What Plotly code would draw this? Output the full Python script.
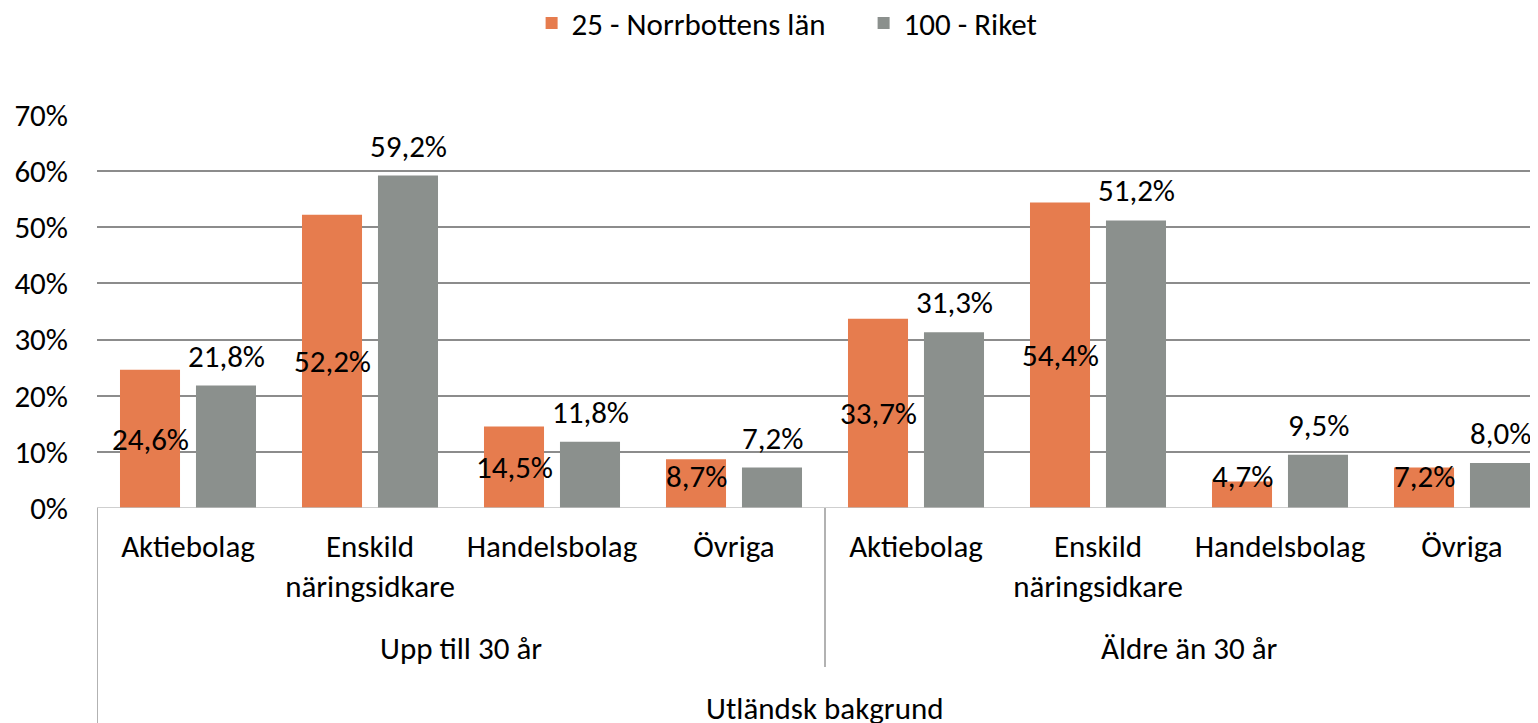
import plotly.graph_objects as go

# data
categories = ["Aktiebolag", "Enskild<br>näringsidkare", "Handelsbolag", "Övriga",
              "Aktiebolag", "Enskild<br>näringsidkare", "Handelsbolag", "Övriga"]
age_groups = ["Upp till 30 år", "Äldre än 30 år"]
top_group = "Utländsk bakgrund"
norrbotten = [0.246, 0.522, 0.145, 0.087, 0.337, 0.544, 0.047, 0.072]
riket = [0.218, 0.592, 0.118, 0.072, 0.313, 0.512, 0.095, 0.080]
series_names = ["25 - Norrbottens län", "100 - Riket"]

FONT = "Carlito, Calibri, Lato, sans-serif"
FS = 31
ORANGE = "#E67C4E"
GREY = "#8B908D"


def pct(v):
    return f"{v * 100:.1f}%".replace(".", ",")


xs = list(range(len(categories)))

fig = go.Figure()
fig.add_trace(go.Bar(x=xs, y=norrbotten, name=series_names[0],
                     marker=dict(color=ORANGE, line=dict(width=0))))
fig.add_trace(go.Bar(x=xs, y=riket, name=series_names[1],
                     marker=dict(color=GREY, line=dict(width=0))))

# orange labels: centred in the bar, kept clear of the axis for short bars
for x, v in zip(xs, norrbotten):
    fig.add_annotation(x=x, y=max(v / 2, 0.057), xref="x", yref="y", xshift=-38,
                       text=pct(v), showarrow=False, font=dict(size=FS),
                       yanchor="middle")
# grey labels: just above the bar end
for x, v in zip(xs, riket):
    fig.add_annotation(x=x, y=v, xref="x", yref="y", xshift=38, yshift=30,
                       text=pct(v), showarrow=False, font=dict(size=FS),
                       yanchor="middle")

# page body has an 8px margin, so the figure is shrunk by that much
fig.update_layout(
    width=1530, height=715,
    margin=dict(l=89, r=0, t=106, b=215, autoexpand=False),
    paper_bgcolor="white", plot_bgcolor="white",
    font=dict(family=FONT, size=FS, color="black"),
    barmode="group", bargap=0.165, bargroupgap=0.21,
    showlegend=True,
    legend=dict(orientation="h", x=0.532, xanchor="center", y=1.23, yanchor="middle",
                font=dict(size=FS), traceorder="normal", entrywidth=287),
)

n = len(categories)
fig.update_xaxes(
    range=[-0.5, -0.5 + 1441 / 182], tickmode="array", tickvals=xs, ticktext=categories,
    showgrid=False, zeroline=False, showline=False, ticks="",
    tickfont=dict(size=FS), ticklabelstandoff=17, fixedrange=True,
)
fig.update_yaxes(
    range=[0, 0.7015], tickvals=[i / 10 for i in range(8)], tickformat=".0%",
    showgrid=True, gridcolor="#8C8C8C", gridwidth=1.5, zeroline=False,
    showline=False, ticks="", tickfont=dict(size=FS), ticklabelstandoff=28,
)

# axis baseline and category dividers
fig.add_shape(type="line", xref="paper", yref="y", x0=0, x1=1, y0=0, y1=0,
              line=dict(color="#BFBFBF", width=1.5))
fig.add_shape(type="line", xref="x", yref="paper", x0=-0.5, x1=-0.5, y0=0, y1=-215 / 394,
              line=dict(color="#999999", width=1.5))
fig.add_shape(type="line", xref="x", yref="paper", x0=n / 2 - 0.5, x1=n / 2 - 0.5,
              y0=0, y1=-159 / 394, line=dict(color="#999999", width=1.5))

half = n // 2
for i, g in enumerate(age_groups):
    fig.add_annotation(x=i * half + (half - 1) / 2, xref="x", y=0, yref="paper",
                       yshift=-140, text=g, showarrow=False, font=dict(size=FS),
                       yanchor="middle")
fig.add_annotation(x=(n - 1) / 2, xref="x", y=0, yref="paper", yshift=-200,
                   text=top_group, showarrow=False, font=dict(size=FS), yanchor="middle")

fig.write_html("out.html")
